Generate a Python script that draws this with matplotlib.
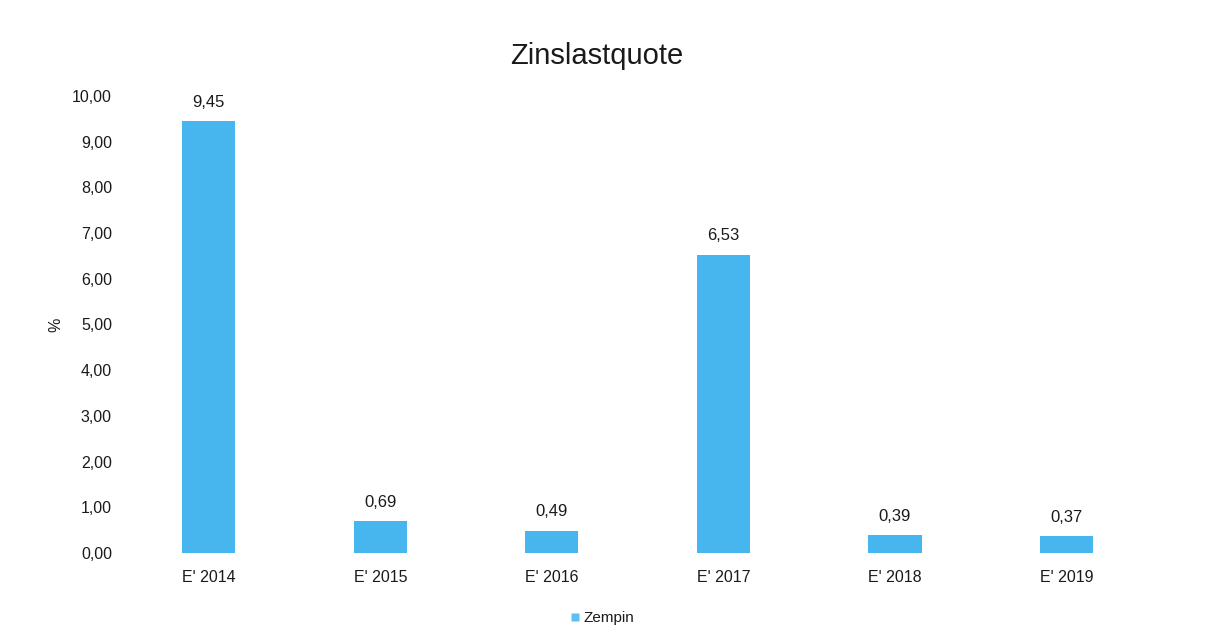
import matplotlib

matplotlib.use("Agg")
import matplotlib.pyplot as plt
from matplotlib.lines import Line2D

categories = ["E' 2014", "E' 2015", "E' 2016", "E' 2017", "E' 2018", "E' 2019"]
values = [9.45, 0.69, 0.49, 6.53, 0.39, 0.37]
yticks = [0, 1, 2, 3, 4, 5, 6, 7, 8, 9, 10]
series_name = "Zempin"

BAR_COLOR = "#48b6ee"
TEXT_COLOR = "#1a1a1a"

plt.rcParams["font.family"] = ["Liberation Sans", "DejaVu Sans"]


def de_fmt(v):
    return f"{v:.2f}".replace(".", ",")


fig = plt.figure(figsize=(12.18, 6.4), dpi=100)
ax = fig.add_axes([0.101, 0.136, 0.845, 0.714])

x = list(range(len(categories)))
ax.bar(x, values, width=0.31, color=BAR_COLOR)
for xi, v in zip(x, values):
    ax.annotate(de_fmt(v), xy=(xi, v), xytext=(0, 8), textcoords="offset points",
                ha="center", va="bottom", fontsize=12, color=TEXT_COLOR)

ax.set_xlim(-0.5, len(categories) - 0.5)
ax.set_ylim(0, 10)
ax.set_yticks(yticks)
ax.set_yticklabels([de_fmt(t) for t in yticks], fontsize=11.5, color=TEXT_COLOR)
ax.set_xticks(x)
ax.set_xticklabels(categories, fontsize=11.5, color=TEXT_COLOR)
ax.tick_params(axis="both", length=0)
ax.tick_params(axis="x", pad=12)
ax.tick_params(axis="y", pad=8)
for s in ax.spines.values():
    s.set_visible(False)

ax.set_ylabel("%", fontsize=11.5, color=TEXT_COLOR, labelpad=6)
fig.suptitle("Zinslastquote", fontsize=21, color=TEXT_COLOR, x=0.49, y=0.935)

handle = Line2D([], [], marker="s", linestyle="none", markersize=6,
                markerfacecolor="#5cc0f5", markeredgecolor="none")
fig.legend([handle], [series_name], loc="center", bbox_to_anchor=(0.49, 0.034),
           frameon=False, fontsize=11, handletextpad=-0.4, labelcolor=TEXT_COLOR)

fig.savefig("out.png", dpi=100)
